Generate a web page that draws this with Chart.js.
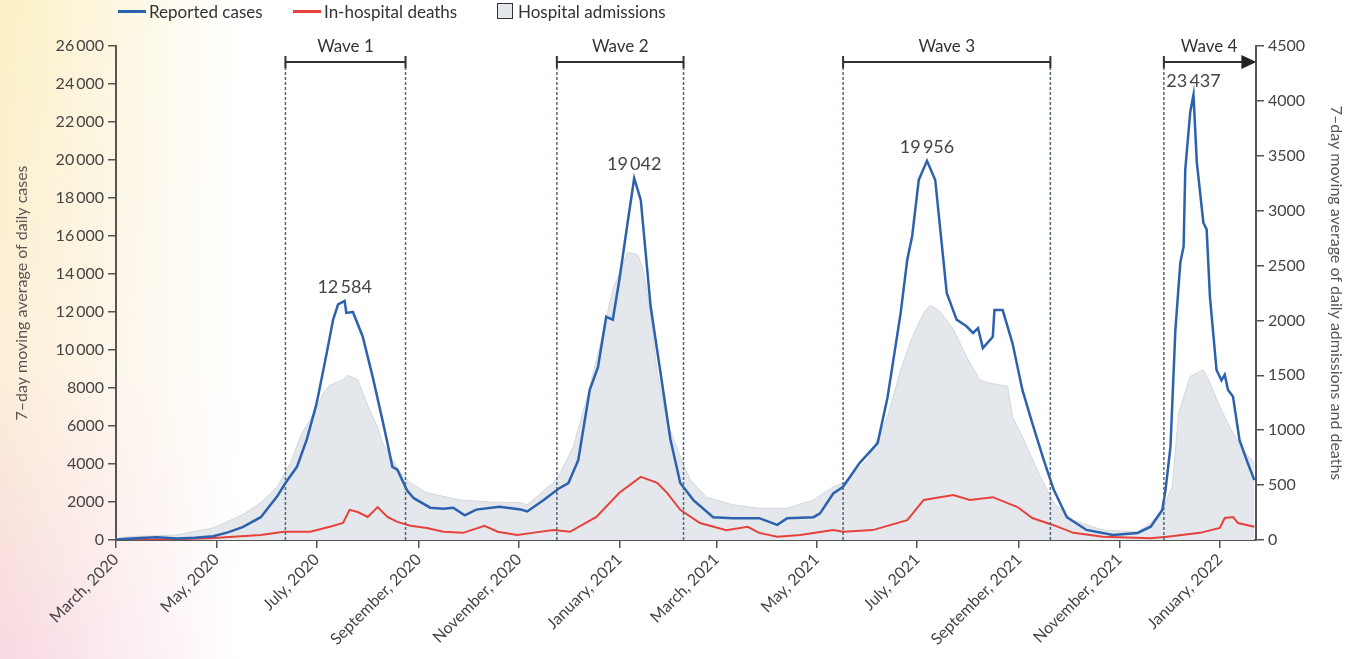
<!DOCTYPE html>
<html lang="en">
<head>
  <meta charset="UTF-8">
  <title>Reported cases, hospital admissions and in-hospital deaths</title>
  <script src="https://cdn.jsdelivr.net/npm/chart.js"></script>
  <style>
    html, body { margin: 0; padding: 0; }
    body {
      width: 1350px;
      height: 659px;
      overflow: hidden;
      font-family: Lato, "Open Sans", sans-serif;
      background:
        linear-gradient(to right, rgba(255,255,255,0) 0px, #ffffff 240px),
        linear-gradient(to bottom, #fbf0c4 0%, #fcefd8 55%, #f8d8e1 100%);
    }
    #wrap { position: relative; width: 1350px; height: 659px; }
    #chart { position: absolute; left: 0; top: 0; }

    /* legenda nad wykresem */
    .lg { position: absolute; top: 0; height: 22px; display: flex; align-items: center;
          font-size: 17px; color: #333; white-space: nowrap; }
    .lg .ln { display: inline-block; width: 28px; height: 3px; margin-right: 3px; }
    .lg .bx { display: inline-block; width: 14px; height: 14px; margin-right: 5px;
              border: 1.5px solid #333; background: #e4e8ec; }
  </style>
</head>
<body>
<div id="wrap">
  <canvas id="chart" width="1350" height="659"></canvas>
  <div class="lg" style="left:118px"><span class="ln" style="background:#2c62ad"></span>Reported cases</div>
  <div class="lg" style="left:293px"><span class="ln" style="background:#e8413b"></span>In-hospital deaths</div>
  <div class="lg" style="left:497px"><span class="bx"></span>Hospital admissions</div>
</div>
<script>
  // dni liczone od 1 marca 2020
  const monthDays = [0, 61, 122, 184, 245, 306, 365, 426, 487, 549, 610, 671];
  const monthLabels = ['March, 2020', 'May, 2020', 'July, 2020', 'September, 2020', 'November, 2020',
    'January, 2021', 'March, 2021', 'May, 2021', 'July, 2021', 'September, 2021', 'November, 2021', 'January, 2022'];

  // zgłoszone przypadki (lewa oś)
  const caseDays = [0,7,15,25,37,48,59,68,77,88,98,103,110,116,122,128,132,135,139,140,144,150,156,162,165,168,171,177,181,191,
    199,205,212,219,233,246,250,260,269,275,281,288,293,298,302,306,311,315,319,325,331,337,343,351,363,375,391,402,408,424,
    428,436,442,452,463,469,477,481,484,488,493,498,505,511,517,521,524,527,533,534,539,545,551,557,564,570,578,590,606,621,
    629,636,638,641,644,647,649,650,653,655,657,661,663,665,669,672,674,676,679,683,688,692];
  const cases = [20,60,100,150,80,120,200,400,680,1200,2300,3000,3850,5300,7200,9800,11600,12400,12584,11950,
    12000,10700,8600,6300,5100,3850,3700,2600,2200,1700,1650,1700,1300,1600,1750,1600,1500,2100,2700,3000,
    4200,7900,9100,11750,11600,13700,16700,19042,17900,12300,8800,5300,3000,2100,1200,1150,1150,800,1150,1200,
    1400,2450,2800,4050,5100,7500,11950,14750,16000,18950,19956,18950,13000,11600,11250,10900,11150,10100,10700,12100,
    12100,10350,7900,6150,4200,2650,1200,530,260,370,700,1580,2640,4900,11060,14600,15450,19500,22500,23437,
    19900,16700,16350,12800,8950,8400,8700,7900,7550,5250,4050,3150];

  // przyjęcia do szpitala (prawa oś)
  const admDays = [0,7,37,59,77,88,98,106,113,122,126,130,138,141,147,150,154,159,162,167,173,179,189,209,229,246,250,268,278,286,
    294,302,311,317,320,325,329,335,343,349,359,375,391,408,424,436,442,457,469,477,484,491,495,501,509,517,525,531,542,545,
    551,562,570,582,600,621,629,636,642,646,653,657,661,665,671,677,685,692];
  const admissions = [10,30,45,110,230,340,485,700,975,1190,1340,1410,1460,1500,1460,1340,1190,1030,885,760,
    610,520,430,365,345,340,320,550,850,1280,1760,2280,2620,2600,2490,2070,1520,1070,760,550,
    390,320,290,290,365,485,520,730,1120,1550,1850,2070,2140,2080,1920,1670,1460,1430,1400,1120,
    940,575,340,180,90,75,155,275,485,1160,1490,1520,1550,1430,1215,1030,820,700];

  // zgony w szpitalu (prawa oś)
  const deathDays = [0,30,57,88,102,118,130,138,142,147,153,159,165,171,179,189,199,211,224,232,244,253,266,276,292,306,319,329,335,343,
    355,371,384,391,402,416,436,442,460,481,491,509,519,533,548,557,570,582,600,629,639,659,671,674,679,682,692];
  const deaths = [0,5,15,45,75,75,120,155,275,255,210,300,210,165,130,110,75,65,130,75,45,65,90,75,210,430,575,520,430,275,
    155,90,120,65,30,45,90,75,90,180,365,410,365,390,300,200,135,65,30,15,30,65,110,200,210,155,120];

  // fale
  const waveNames = ['Wave 1', 'Wave 2', 'Wave 3', 'Wave 4'];
  const waveStart = [103, 268, 442, 637];
  const waveEnd = [176, 345, 568, 692];
  const waveOpen = [false, false, false, true];

  const pts = (xs, ys) => xs.map((d, i) => ({ x: d, y: ys[i] }));
  const thin = v => v >= 10000 ? String(v).replace(/(\d)(\d{3})$/, '$1\u2009$2') : String(v);

  Chart.defaults.font.family = 'Lato, "Open Sans", sans-serif';
  Chart.defaults.color = '#444';

  const wavePlugin = {
    id: 'wavePlugin',
    afterDatasetsDraw(chart) {
      const { ctx, chartArea, scales: { x, y } } = chart;
      const yb = chartArea.top + 16;
      const y0 = chartArea.bottom;
      ctx.save();
      waveNames.forEach((name, i) => {
        const x1 = x.getPixelForValue(waveStart[i]);
        const x2 = x.getPixelForValue(waveEnd[i]);
        ctx.setLineDash([3, 2]);
        ctx.strokeStyle = '#52677a';
        ctx.lineWidth = 1.5;
        ctx.beginPath();
        ctx.moveTo(x1, yb); ctx.lineTo(x1, y0);
        if (!waveOpen[i]) { ctx.moveTo(x2, yb); ctx.lineTo(x2, y0); }
        ctx.stroke();
        ctx.setLineDash([]);

        ctx.strokeStyle = '#333';
        ctx.lineWidth = 2;
        ctx.beginPath();
        ctx.moveTo(x1, yb - 6); ctx.lineTo(x1, yb + 6);
        ctx.moveTo(x1, yb);
        if (waveOpen[i]) {
          ctx.lineTo(x2 - 12, yb);
          ctx.stroke();
          ctx.fillStyle = '#222';
          ctx.beginPath();
          ctx.moveTo(x2 + 2, yb); ctx.lineTo(x2 - 13, yb - 7); ctx.lineTo(x2 - 13, yb + 7);
          ctx.closePath(); ctx.fill();
        } else {
          ctx.lineTo(x2, yb);
          ctx.moveTo(x2, yb - 6); ctx.lineTo(x2, yb + 6);
          ctx.stroke();
        }
        ctx.fillStyle = '#333';
        ctx.font = '17px Lato, "Open Sans", sans-serif';
        ctx.textAlign = 'center';
        ctx.textBaseline = 'bottom';
        ctx.fillText(name, (x1 + x2) / 2, yb - 7);

        // szczyt fali
        let best = -1;
        caseDays.forEach((d, k) => {
          if (d >= waveStart[i] && d <= waveEnd[i] && (best < 0 || cases[k] > cases[best])) best = k;
        });
        if (best >= 0) {
          ctx.font = '18px Lato, "Open Sans", sans-serif';
          ctx.fillStyle = '#444';
          ctx.fillText(thin(cases[best]), x.getPixelForValue(caseDays[best]),
            y.getPixelForValue(cases[best]) - 5);
        }
      });
      ctx.restore();
    }
  };

  const axisGrid = { drawOnChartArea: false, tickLength: 8, color: '#555', lineWidth: 1.5 };
  const axisBorder = { color: '#555', width: 2 };

  const ctx = document.getElementById('chart').getContext('2d');
  new Chart(ctx, {
    type: 'line',
    data: {
      datasets: [
        { label: 'Hospital admissions', data: pts(admDays, admissions), yAxisID: 'y1', fill: 'origin',
          backgroundColor: '#e4e8ec', borderColor: '#d2d7dd', borderWidth: 1, pointRadius: 0, order: 3 },
        { label: 'In-hospital deaths', data: pts(deathDays, deaths), yAxisID: 'y1', fill: false,
          borderColor: '#e8413b', borderWidth: 2, pointRadius: 0, order: 2 },
        { label: 'Reported cases', data: pts(caseDays, cases), yAxisID: 'y', fill: false,
          borderColor: '#2c62ad', borderWidth: 2.5, pointRadius: 0, order: 1 }
      ]
    },
    options: {
      responsive: false,
      animation: false,
      layout: { padding: { top: 46, left: 0, right: 0, bottom: 0 } },
      plugins: { legend: { display: false }, tooltip: { enabled: false } },
      scales: {
        x: {
          type: 'linear', min: 0, max: 693,
          afterBuildTicks: s => { s.ticks = monthDays.map(v => ({ value: v })); },
          afterFit: s => { s.height = 119; },
          ticks: { callback: (v, i) => monthLabels[i], minRotation: 45, maxRotation: 45, autoSkip: false,
                   color: '#444', font: { size: 16 }, padding: 2 },
          grid: axisGrid, border: axisBorder
        },
        y: {
          position: 'left', min: 0, max: 26000,
          afterFit: s => { s.width = 116; },
          ticks: { stepSize: 2000, autoSkip: false, callback: v => thin(v), color: '#444', font: { size: 16 }, padding: 4 },
          title: { display: true, text: '7–day moving average of daily cases', color: '#555',
                   font: { size: 16 }, padding: { top: 12, bottom: 0 } },
          grid: axisGrid, border: axisBorder
        },
        y1: {
          position: 'right', min: 0, max: 4500,
          afterFit: s => { s.width = 94; },
          ticks: { stepSize: 500, autoSkip: false, callback: v => String(v), color: '#444', font: { size: 16 }, padding: 4 },
          title: { display: true, text: '7–day moving average of daily admissions and deaths', color: '#555',
                   font: { size: 16 }, padding: { top: 4, bottom: 0 } },
          grid: axisGrid, border: axisBorder
        }
      }
    },
    plugins: [wavePlugin]
  });
</script>
</body>
</html>
